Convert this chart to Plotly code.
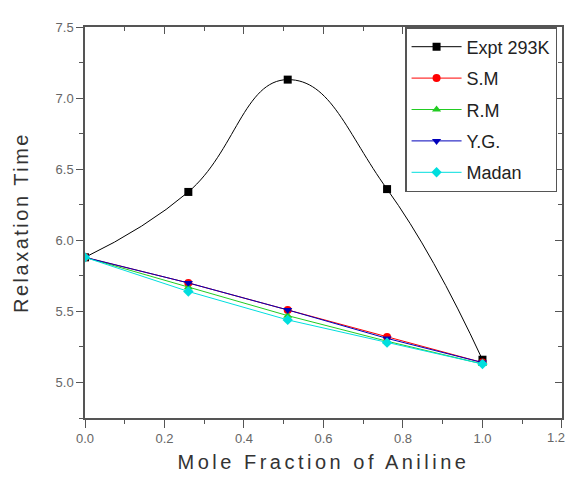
import plotly.graph_objects as go

mole_fraction = [0.0, 0.26, 0.51, 0.76, 1.0]
expt_293k = [5.88, 6.34, 7.13, 6.36, 5.16]
sm = [5.88, 5.70, 5.51, 5.32, 5.14]
rm = [5.88, 5.67, 5.47, 5.29, 5.13]
yg = [5.88, 5.70, 5.51, 5.31, 5.14]
madan = [5.88, 5.64, 5.44, 5.28, 5.13]

x_ticks = [0.0, 0.2, 0.4, 0.6, 0.8, 1.0, 1.2]
x_ticklabels = ["0.0", "0.2", "0.4", "0.6", "0.8", "1.0", "1.2"]
y_ticks = [5.0, 5.5, 6.0, 6.5, 7.0, 7.5]
y_ticklabels = ["5.0", "5.5", "6.0", "6.5", "7.0", "7.5"]

series = [
    ("Expt 293K", expt_293k, "black", "square", "spline"),
    ("S.M", sm, "#ff0000", "circle", "linear"),
    ("R.M", rm, "#22cc22", "triangle-up", "linear"),
    ("Y.G.", yg, "#0000bb", "triangle-down", "linear"),
    ("Madan", madan, "#00dede", "diamond", "linear"),
]

fig = go.Figure()
for name, vals, color, sym, shape in series:
    fig.add_trace(go.Scatter(
        x=mole_fraction, y=vals, name=name, mode="lines+markers",
        line=dict(color=color, width=1, shape=shape, smoothing=1.3),
        marker=dict(symbol=sym, size=8, color=color),
        legendgroup=name,
    ))

# invisible trace to host the mirrored (top/right) axes
fig.add_trace(go.Scatter(x=mole_fraction, y=expt_293k, xaxis="x2", yaxis="y2",
                         mode="markers", marker=dict(opacity=0), showlegend=False,
                         hoverinfo="skip"))

axis_col = "#555555"
tick_font = dict(family="Arial", size=13, color="#666666")
x_range = [0, 1.2001]
y_range = [4.75, 7.5001]

# the last x label sits at the page edge: draw it right-aligned so it stays whole
shown_x_labels = x_ticklabels[:-1] + [""]

fig.update_layout(
    width=568, height=483,
    margin=dict(l=85, r=6, t=27, b=65, autoexpand=False),
    paper_bgcolor="white", plot_bgcolor="white",
    showlegend=True,
    xaxis=dict(range=x_range, tickvals=x_ticks, ticktext=shown_x_labels,
               ticks="outside", ticklen=8, tickwidth=1.2, tickcolor=axis_col,
               minor=dict(ticks="outside", dtick=0.1, ticklen=4, tickcolor=axis_col),
               showline=True, linecolor=axis_col, linewidth=1.5, showgrid=False,
               zeroline=False, tickfont=tick_font, ticklabeloverflow="allow",
               automargin=False,
               title=dict(text='<span style="letter-spacing:3.5px">Mole Fraction of Aniline</span>',
                          font=dict(family="Arial", size=20, color="#333333"),
                          standoff=10)),
    yaxis=dict(range=y_range, tickvals=y_ticks, ticktext=y_ticklabels,
               ticks="outside", ticklen=7, tickwidth=1.2, tickcolor=axis_col,
               minor=dict(ticks="outside", dtick=0.25, tick0=4.75, ticklen=4, tickcolor=axis_col),
               showline=True, linecolor=axis_col, linewidth=1.5, showgrid=False,
               zeroline=False, tickfont=tick_font, ticklabeloverflow="allow",
               automargin=False,
               title=dict(text='<span style="letter-spacing:2.5px">Relaxation Time</span>',
                          font=dict(family="Arial", size=20, color="#333333"),
                          standoff=22)),
    xaxis2=dict(range=x_range, overlaying="x", side="top", anchor="y",
                tickvals=x_ticks, showticklabels=False, ticks="inside", ticklen=7,
                tickcolor=axis_col, automargin=False,
                minor=dict(ticks="inside", dtick=0.1, ticklen=4, tickcolor=axis_col),
                showline=True, linecolor=axis_col, linewidth=1.5, showgrid=False,
                zeroline=False),
    yaxis2=dict(range=y_range, overlaying="y", side="right", anchor="x",
                tickvals=y_ticks, showticklabels=False, ticks="inside", ticklen=7,
                tickcolor=axis_col, automargin=False,
                minor=dict(ticks="inside", dtick=0.25, tick0=4.75, ticklen=4, tickcolor=axis_col),
                showline=True, linecolor=axis_col, linewidth=1.5, showgrid=False,
                zeroline=False),
    legend=dict(x=0.671, y=1, xanchor="left", yanchor="top",
                bgcolor="white", bordercolor=axis_col, borderwidth=1.5,
                font=dict(family="Arial", size=18, color="#222222"),
                traceorder="grouped", tracegroupgap=5, itemwidth=50),
    annotations=[dict(text=x_ticklabels[-1], x=x_ticks[-1], xref="x", y=0, yref="paper",
                      xanchor="right", yanchor="top", xshift=5, yshift=-10,
                      showarrow=False, font=tick_font)],
)

fig.write_html(
    "out.html",
    config={"displayModeBar": False},
    post_script="document.body.style.margin='0';document.body.style.overflow='hidden';",
)
